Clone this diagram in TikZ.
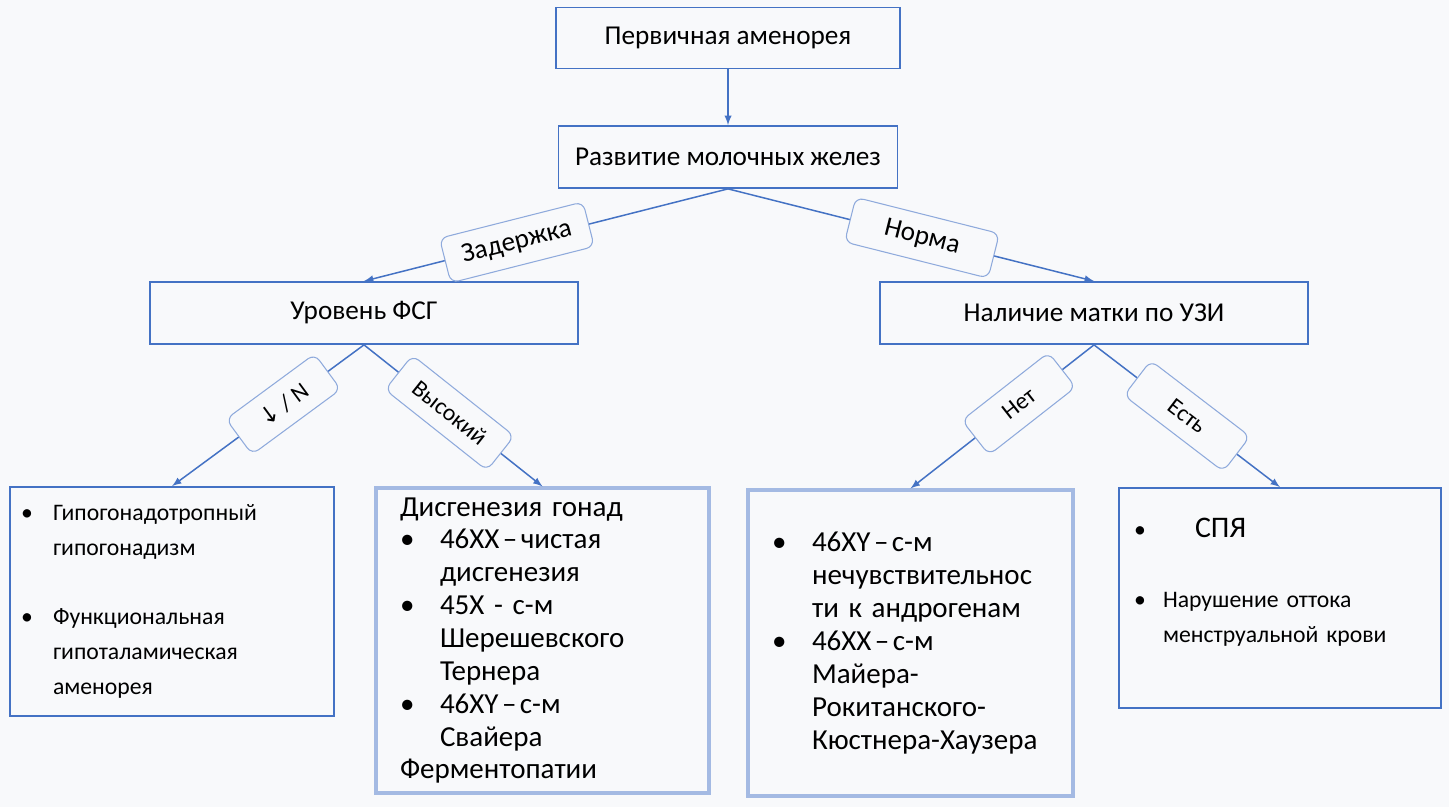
\documentclass[tikz,border=0pt]{standalone}
\usepackage{fontspec}
\setmainfont{Carlito}
\newfontfamily\arrowfont{DejaVu Sans}
\usepackage{tikz}
\usetikzlibrary{arrows}

\definecolor{boxblue}{HTML}{4472C4}
\definecolor{paleblue}{HTML}{A4BAE3}
\definecolor{lblblue}{HTML}{8FAADC}
\definecolor{bg}{HTML}{F8F9FB}

\newcommand{\bul}[1]{\makebox[#1][l]{\textbullet}}
\newcommand{\ind}[1]{\hspace*{#1}}
\newcommand{\dsh}{\hspace{0.12em}–\hspace{0.12em}}

\tikzset{
  head/.style={draw=boxblue, line width=1pt, fill=bg, inner sep=0pt, font=\fontsize{15.5}{18}\selectfont},
  lst/.style={draw=boxblue, line width=1pt, fill=bg, align=left, inner ysep=0pt},
  lstpale/.style={lst, draw=paleblue, line width=1.8pt},
  lbl/.style={draw=lblblue, line width=0.6pt, rounded corners=0.16cm, fill=bg, inner sep=0pt, minimum width=2.96cm, minimum height=0.92cm, sloped, font=\fontsize{15.5}{18}\selectfont},
  lbls/.style={lbl, minimum width=2.4cm, minimum height=0.88cm, font=\fontsize{13.5}{15}\selectfont},
  conn/.style={draw=boxblue, line width=0.85pt, -latex}
}

\begin{document}
\begin{tikzpicture}[x=0.02cm, y=-0.02cm]
        \useasboundingbox (0,0) rectangle (1449,807);
        \fill[bg] (0,0) rectangle (1449,807);

        \node[head, minimum width=6.88cm, minimum height=1.22cm] (prim) at (728,38) {Первичная аменорея};
        \node[head, minimum width=6.78cm, minimum height=1.24cm] (razv) at (728,157) {Развитие молочных желез};
        \node[head, minimum width=8.56cm, minimum height=1.24cm] (fsg) at (364,313) {Уровень ФСГ};
        \node[head, minimum width=8.56cm, minimum height=1.24cm] (uzi) at (1094,313) {Наличие матки по УЗИ};

        \node[lst, text width=6.04cm, inner xsep=0.22cm, minimum height=4.58cm, font=\fontsize{13.5}{19.8}\selectfont] (hypo) at (172,601.5)
          {\bul{0.64cm}Гипогонадотропный\\ \ind{0.64cm}гипогонадизм\\ \mbox{}\\ \bul{0.64cm}Функциональная\\ \ind{0.64cm}гипоталамическая\\ \ind{0.64cm}аменорея};
        \node[lstpale, text width=5.70cm, inner xsep=0.48cm, minimum height=6.10cm, font=\fontsize{16.5}{18.7}\selectfont] (dysg) at (542.5,640.5)
          {Дисгенезия гонад\\ \bul{0.8cm}46XX\dsh чистая\\ \ind{0.8cm}дисгенезия\\ \bul{0.8cm}45X - с-м\\ \ind{0.8cm}Шерешевского\\ \ind{0.8cm}Тернера\\ \bul{0.8cm}46XY\dsh с-м\\ \ind{0.8cm}Свайера\\ Ферментопатии};
        \node[lstpale, text width=5.54cm, inner xsep=0.48cm, minimum height=6.12cm, font=\fontsize{16.5}{18.7}\selectfont] (andr) at (910.5,643)
          {\bul{0.8cm}46XY\dsh с-м\\ \ind{0.8cm}нечувствительнос\\ \ind{0.8cm}ти к андрогенам\\ \bul{0.8cm}46XX\dsh с-м\\ \ind{0.8cm}Майера-\\ \ind{0.8cm}Рокитанского-\\ \ind{0.8cm}Кюстнера-Хаузера};
        \node[lst, text width=5.84cm, inner xsep=0.3cm, minimum height=4.40cm, font=\fontsize{13.5}{20}\selectfont] (spya) at (1280,598)
          {\bul{1.22cm}{\fontsize{17}{20}\selectfont СПЯ}\\ \mbox{}\\ \bul{0.58cm}Нарушение оттока\\ \ind{0.58cm}менструальной крови\\ \mbox{}};

        \draw[conn] (prim.south) -- (razv.north);
        \draw[conn] (razv.south) -- node[lbl, pos=0.58] (zad) {Задержка} (fsg.north);
        \draw[conn] (razv.south) -- node[lbl, pos=0.53] (norm) {Норма} (uzi.north);

        \draw[conn] (fsg.south) -- node[lbls, minimum width=2.2cm, pos=0.42] (low) {{\arrowfont ↓} / N} (hypo.north);
        \draw[conn] (fsg.south) -- node[lbls, minimum width=2.6cm, pos=0.48] (high) {Высокий} (dysg.north);
        \draw[conn] (uzi.south) -- node[lbls, minimum width=2.2cm, pos=0.41] (no) {Нет} (andr.north);
        \draw[conn] (uzi.south) -- node[lbls, minimum width=2.5cm, pos=0.5] (yes) {Есть} (spya.north);

        \end{tikzpicture}
\end{document}
